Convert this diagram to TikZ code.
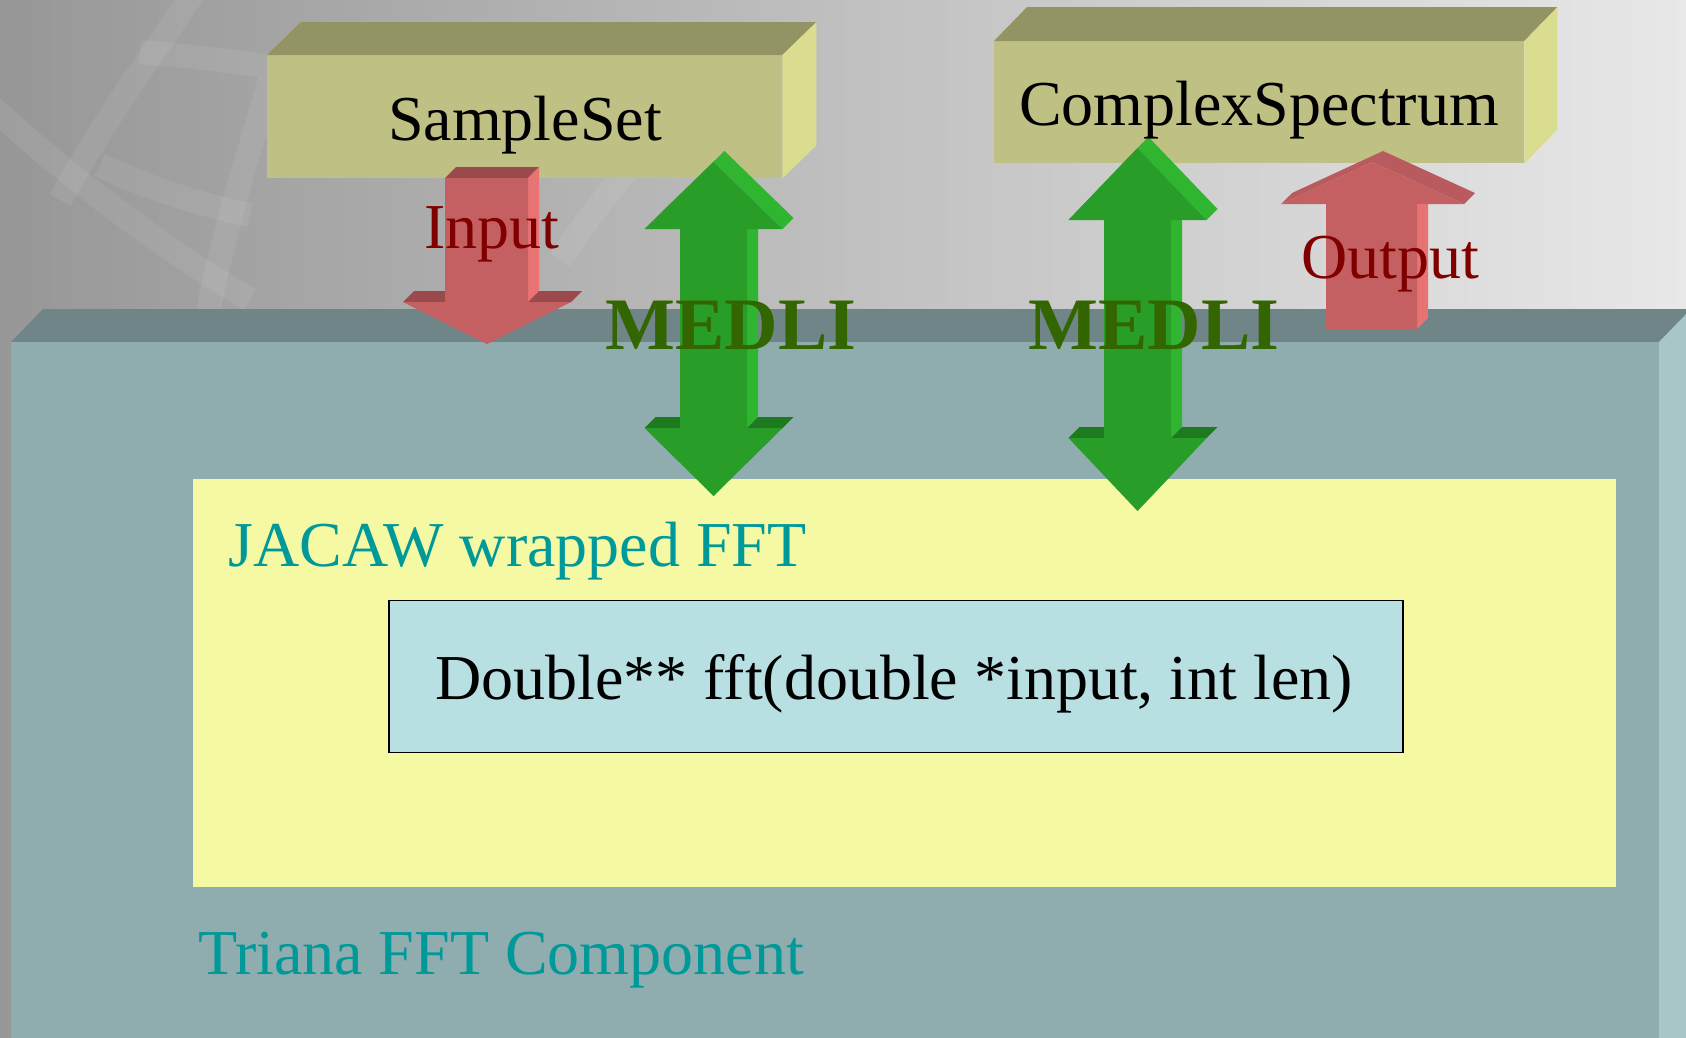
\documentclass[tikz,border=0pt]{standalone}
\usepackage{fontspec}
\setmainfont{Liberation Serif}
\usetikzlibrary{calc}
\definecolor{bgL}{HTML}{979797}
\definecolor{bgR}{HTML}{E8E8E8}
\definecolor{tealfront}{HTML}{8FACAE}
\definecolor{tealtop}{HTML}{6F8587}
\definecolor{tealside}{HTML}{A8C5C8}
\definecolor{olivefront}{HTML}{BFC184}
\definecolor{olivetop}{HTML}{939463}
\definecolor{oliveside}{HTML}{DADC90}
\definecolor{redfront}{HTML}{C46062}
\definecolor{reddark}{HTML}{9A4A4D}
\definecolor{redmid}{HTML}{B85A5E}
\definecolor{redlight}{HTML}{E87373}
\definecolor{grnfront}{HTML}{289E28}
\definecolor{grnlight}{HTML}{2FB52F}
\definecolor{grndark}{HTML}{1E7A1E}
\definecolor{medlicol}{HTML}{336600}
\definecolor{iocol}{HTML}{800000}
\definecolor{tealtext}{HTML}{009999}
\definecolor{jacawfill}{HTML}{F6F9A4}
\definecolor{fftfill}{HTML}{B8DFE2}
\tikzset{
  bigfont/.style={font=\fontsize{64}{70}\selectfont},
  boxlabel/.style={bigfont, text=black, anchor=base, inner sep=0pt},
  iolabel/.style={bigfont, text=iocol, anchor=base, inner sep=0pt},
  medlilabel/.style={font=\fontsize{74}{80}\selectfont\bfseries, text=medlicol, anchor=base, inner sep=0pt},
  teallabel/.style={bigfont, text=tealtext, anchor=base west, inner sep=0pt},
  olivebox/.style={fill=olivefront, draw=none, inner sep=0pt},
}
% double headed 3D arrow: #1 centre x, #2 top tip y, #3 upper head base y, #4 lower head y, #5 bottom tip y
\newcommand\medliarrow[5]{%
  \fill[grnfront] (#1,#2) -- ({#1-69},#3) -- ([shift={(11,-11)}]{#1-69},#3) -- ([shift={(11,-11)}]#1,#2) -- cycle;
  \fill[grnlight] (#1,#2) -- ({#1+69},#3) -- ([shift={(11,-11)}]{#1+69},#3) -- ([shift={(11,-11)}]#1,#2) -- cycle;
  \fill[grnlight] ({#1+33.5},#3) -- ({#1+33.5},#4) -- ([shift={(11,-11)}]{#1+33.5},#4) -- ([shift={(11,-11)}]{#1+33.5},#3) -- cycle;
  \fill[grndark] ({#1+33.5},#4) -- ({#1+69},#4) -- ([shift={(11,-11)}]{#1+69},#4) -- ([shift={(11,-11)}]{#1+33.5},#4) -- cycle;
  \fill[grndark] ({#1-69},#4) -- ({#1-33.5},#4) -- ([shift={(11,-11)}]{#1-33.5},#4) -- ([shift={(11,-11)}]{#1-69},#4) -- cycle;
  \fill[grnlight] ({#1+69},#4) -- (#1,#5) -- ([shift={(2,-2)}]#1,#5) -- ([shift={(2,-2)}]{#1+69},#4) -- cycle;
  \fill[grnfront] (#1,#2) -- ({#1+69},#3) -- ({#1+33.5},#3) -- ({#1+33.5},#4) -- ({#1+69},#4)
     -- (#1,#5) -- ({#1-69},#4) -- ({#1-33.5},#4) -- ({#1-33.5},#3) -- ({#1-69},#3) -- cycle;
}
\begin{document}
\begin{tikzpicture}[x=1pt,y=-1pt]
\useasboundingbox (0,0) rectangle (1686,1037);
% background
\shade[left color=bgL, right color=bgR] (0,0) rectangle (1686,1037);
\begin{scope}[draw=white, opacity=0.07, line width=24pt]
  \draw (195,-10) .. controls (150,60) and (110,110) .. (60,200);
  \draw (-10,105) .. controls (60,170) and (150,240) .. (250,300);
  \draw (140,52) .. controls (190,56) and (240,62) .. (290,70);
  \draw (270,80) .. controls (250,150) and (220,240) .. (205,330);
  \draw (100,165) .. controls (140,185) and (200,205) .. (250,215);
  \draw (560,260) .. controls (600,200) and (640,150) .. (700,100);
\end{scope}
% Triana component box
\fill[tealtop] (11,342) -- (43,309) -- (1700,309) -- (1659,342) -- cycle;
\fill[tealside] (1659,342) -- (1691,309) -- (1691,1040) -- (1659,1040) -- cycle;
\node[fill=tealfront, inner sep=0pt, anchor=north west, minimum width=1648pt, minimum height=700pt] (triana) at (11,342) {};
% JACAW box
\node[fill=jacawfill, inner sep=0pt, anchor=north west, minimum width=1423pt, minimum height=408pt] (jacaw) at (192.5,479) {};
% fft box
\node[fill=fftfill, draw=black, line width=1.3pt, inner sep=0pt, minimum width=1014pt, minimum height=152pt] (fftbox) at (896,676.5) {};
% SampleSet box
\node[olivebox, minimum width=515pt, minimum height=123pt, anchor=north west] (ssbox) at (267,55) {};
\fill[olivetop] (ssbox.north west) -- ++(34,-33) -- ([shift={(34,-33)}]ssbox.north east) -- (ssbox.north east) -- cycle;
\fill[oliveside] (ssbox.north east) -- ++(34,-33) -- ([shift={(34,-33)}]ssbox.south east) -- (ssbox.south east) -- cycle;
% ComplexSpectrum box
\node[olivebox, minimum width=530pt, minimum height=122pt, anchor=north west] (csbox) at (994,41) {};
\fill[olivetop] (csbox.north west) -- ++(33,-34) -- ([shift={(33,-34)}]csbox.north east) -- (csbox.north east) -- cycle;
\fill[oliveside] (csbox.north east) -- ++(33,-34) -- ([shift={(33,-34)}]csbox.south east) -- (csbox.south east) -- cycle;
% Input arrow (down)
\fill[reddark] (445,178) -- (528,178) -- (539,167) -- (456,167) -- cycle;
\fill[redlight] (528,178) -- (528,302) -- (539,291) -- (539,167) -- cycle;
\fill[reddark] (528,302) -- (571,302) -- (582,291) -- (539,291) -- cycle;
\fill[reddark] (403,302) -- (445,302) -- (456,291) -- (414,291) -- cycle;
\fill[redfront] (445,178) -- (528,178) -- (528,302) -- (571,302) -- (487,344) -- (403,302) -- (445,302) -- cycle;
% Output arrow (up)
\fill[redmid] (1281,204) -- (1372,162) -- (1383,151) -- (1292,193) -- cycle;
\fill[redmid] (1372,162) -- (1464,204) -- (1475,193) -- (1383,151) -- cycle;
\fill[redlight] (1417,204) -- (1417,329) -- (1428,318) -- (1428,193) -- cycle;
\fill[redfront] (1372,162) -- (1464,204) -- (1417,204) -- (1417,329) -- (1326,329) -- (1326,204) -- (1281,204) -- cycle;
% MEDLI arrows
\medliarrow{713.5}{162}{229}{428}{496}
\medliarrow{1137.5}{148}{220}{438}{511}
% texts
\node[boxlabel] (sstext) at (525,140) {SampleSet};
\node[boxlabel] (cstext) at (1259,125) {ComplexSpectrum};
\node[iolabel] (intext) at (492,248) {Input};
\node[iolabel] (outtext) at (1390,278) {Output};
\node[medlilabel] (medli1) at (731,349) {MEDLI};
\node[medlilabel] (medli2) at (1154,349) {MEDLI};
\node[teallabel] (jacawtext) at (228.5,566) {JACAW wrapped FFT};
\node[boxlabel] (ffttext) at (894,699) {Double** fft(double *input, int len)};
\node[teallabel] (trianatext) at (198,974) {Triana FFT Component};
\end{tikzpicture}
\end{document}
